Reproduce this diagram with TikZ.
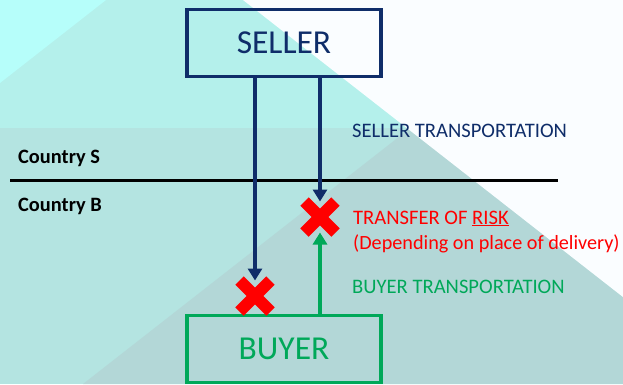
\documentclass[tikz,border=0pt]{standalone}
\usepackage{fontspec}
\setmainfont{Carlito}
\usetikzlibrary{shapes, shapes.misc, arrows, arrows.meta, positioning}
\usepackage{color}

\definecolor{navy}{HTML}{0F2D69}
\definecolor{buyergreen}{HTML}{00A859}
\definecolor{bgteal}{HTML}{B4F0EB}
\definecolor{bgcyan}{HTML}{B6FEFA}
\definecolor{bgband}{HTML}{B4E4E1}
\definecolor{bgdark}{HTML}{B3D7D7}
\definecolor{bgwhite}{HTML}{FAFDFF}

\begin{document}
\begin{tikzpicture}[x=1pt, y=-1pt, node distance=306pt]
        \tikzstyle{party} = [rectangle, minimum width = 194pt, minimum height = 67pt, line width = 3.5pt, text centered, font=\fontsize{33.5}{36}\selectfont]
        \tikzstyle{seller} = [party, draw=navy, text=navy]
        \tikzstyle{buyer} = [party, draw=buyergreen, text=buyergreen]
        \tikzstyle{riskx} = [cross out, draw=red, line width = 12pt, minimum size = 31pt, inner sep = 0pt, outer sep = 0pt]
        \tikzstyle{sellerarrow} = [line width = 4pt, draw=navy, fill=navy, -{Triangle[length=12pt, width=14pt]}]
        \tikzstyle{buyerarrow} = [line width = 4pt, draw=buyergreen, fill=buyergreen, -{Triangle[length=12pt, width=14pt]}]
        \tikzstyle{note} = [anchor=base west, inner sep = 0pt, font=\fontsize{20.6}{24}\selectfont]
        \tikzstyle{country} = [note, font=\fontsize{20.4}{24}\selectfont\bfseries]
        \tikzstyle{border} = [line width = 3pt, draw=black]

        % background facets
        \useasboundingbox (0,0) rectangle (623,384);
        \fill[bgteal] (0,0) rectangle (623,384);
        \fill[bgcyan] (0,0) -- (106,0) -- (0,83) -- cycle;
        \fill[bgband] (0,128) rectangle (623,384);
        \fill[bgdark] (83,384) -- (409,129) -- (623,297) -- (623,384) -- cycle;
        \fill[bgwhite] (243,0) -- (623,0) -- (623,297) -- cycle;

        \node (seller) [seller] at (284,43) {SELLER};
        \node (buyer) [buyer, below of=seller] {BUYER};
        \node (xlow) [riskx] at (255,296) {};
        \node (xhigh) [riskx] at (320,217) {};

        \coordinate (borderW) at (10,180);
        \coordinate (borderE) at (558,180);
        \node (countryS) [country] at (18,163) {Country S};
        \node (countryB) [country] at (18,211) {Country B};

        \node (sellerText) [note, text=navy] at (352,137) {SELLER TRANSPORTATION};
        \node (riskText) [note, text=red] at (353,224) {TRANSFER OF \underline{RISK}};
        \node (deliveryText) [note, text=red, font=\fontsize{20.2}{24}\selectfont] at (353,249) {(Depending on place of delivery)};
        \node (buyerText) [note, text=buyergreen] at (352,293) {BUYER TRANSPORTATION};

        \draw[border] (borderW) -- (borderE);
        \draw[sellerarrow] (seller.south -| xlow) -- (xlow.north);
        \draw[sellerarrow] (seller.south -| xhigh) -- (xhigh.north);
        \draw[buyerarrow] (buyer.north -| xhigh) -- (xhigh.south);

    \end{tikzpicture}
\end{document}
